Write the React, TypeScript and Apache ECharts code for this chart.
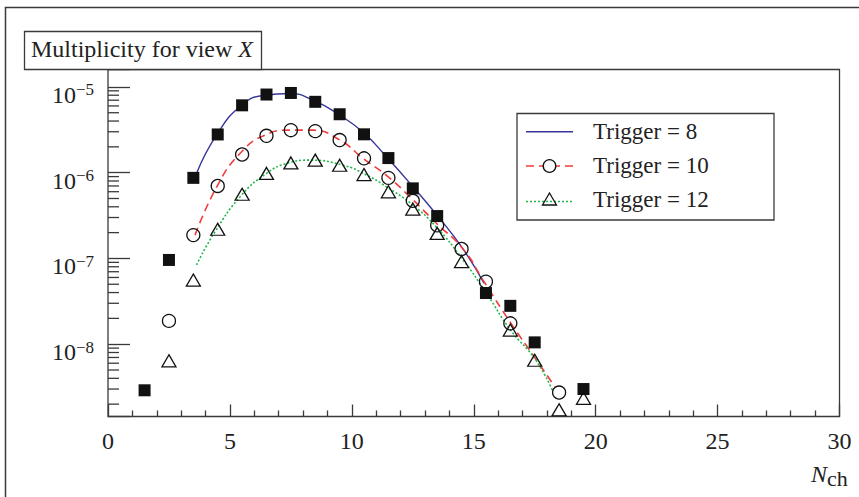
import React, { useEffect, useRef } from 'react';
import * as echarts from 'echarts';

// ---------------- data ----------------
const markerX = [1.5, 2.5, 3.5, 4.5, 5.5, 6.5, 7.5, 8.5, 9.5, 10.5, 11.5, 12.5, 13.5, 14.5, 15.5, 16.5, 17.5, 18.5, 19.5];
const trigger8 = [2.9e-9, 9.6e-8, 8.7e-7, 2.79e-6, 6.1e-6, 8.15e-6, 8.5e-6, 6.7e-6, 4.8e-6, 2.8e-6, 1.48e-6, 6.56e-7, 3.12e-7, null, 3.95e-8, 2.8e-8, 1.05e-8, null, 3.0e-9];
const trigger10 = [null, 1.87e-8, 1.87e-7, 7.0e-7, 1.63e-6, 2.69e-6, 3.13e-6, 3.05e-6, 2.4e-6, 1.47e-6, 8.7e-7, 4.7e-7, 2.43e-7, 1.29e-7, 5.36e-8, 1.75e-8, null, 2.73e-9, null];
const trigger12 = [null, 6.4e-9, 5.6e-8, 2.19e-7, 5.6e-7, 9.8e-7, 1.3e-6, 1.4e-6, 1.22e-6, 9.5e-7, 5.98e-7, 3.76e-7, 1.96e-7, 9.2e-8, null, 1.46e-8, 6.5e-9, 1.72e-9, 2.34e-9];

const fit8X = [3.63, 4.45, 5.48, 6.43, 7.46, 8.41, 9.51, 10.52, 11.42, 12.51, 13.47, 14.56, 15.42];
const fit8Y = [9.8e-7, 2.74e-6, 6.12e-6, 8.0e-6, 8.38e-6, 7.0e-6, 4.68e-6, 2.86e-6, 1.53e-6, 6.84e-7, 3.25e-7, 1.29e-7, 5.13e-8];
const fit10X = [3.57, 4.46, 5.41, 6.43, 7.46, 8.41, 9.51, 10.46, 11.49, 12.45, 13.47, 14.56, 15.42, 16.52, 17.5, 18.32];
const fit10Y = [1.87e-7, 6.84e-7, 1.67e-6, 2.74e-6, 3.13e-6, 3.13e-6, 2.4e-6, 1.47e-6, 8.95e-7, 5.0e-7, 2.57e-7, 1.29e-7, 5.37e-8, 1.76e-8, 7.0e-9, 3.2e-9];
const fit12X = [3.63, 4.39, 5.48, 6.5, 7.32, 8.28, 9.64, 10.6, 11.42, 12.45, 13.45, 14.54, 15.52, 16.5, 17.53, 18.25];
const fit12Y = [8.4e-8, 2.05e-7, 5.48e-7, 9.8e-7, 1.28e-6, 1.4e-6, 1.22e-6, 9.4e-7, 6.84e-7, 4.3e-7, 2.35e-7, 9.8e-8, 3.93e-8, 1.47e-8, 6.6e-9, 2.8e-9];

const legendLabels = ['Trigger = 8', 'Trigger = 10', 'Trigger = 12'];
const titleText = 'Multiplicity for view ';
const titleItalic = 'X';
const xTickLabels = ['0', '5', '10', '15', '20', '25', '30'];
const yDecades = [-9, -8, -7, -6, -5];
const minorMultipliers = [2, 3, 4, 5, 6, 7, 8, 9];

const X_MIN = 0;
const X_MAX = 30;
const Y_MIN = 1.435e-9;
const Y_MAX = 1.596e-5;

const FONT_NAME = '"Liberation Serif", "Times New Roman", serif';
const INK = '#222';
const FRAME = '#3a3a3a';
const BLUE = '#35359a';
const RED = '#f23a3a';
const GREEN = '#1fb84a';

function pairs(xs: number[], ys: (number | null)[]) {
  const out: number[][] = [];
  xs.forEach((x, i) => {
    const y = ys[i];
    if (y != null) out.push([x, y]);
  });
  return out;
}

const minorTickValues: number[][] = [];
yDecades.forEach((d) => {
  minorMultipliers.forEach((m) => {
    const v = m * Math.pow(10, d);
    if (v > Y_MIN && v < Y_MAX) minorTickValues.push([X_MIN, v]);
  });
});

export default function App() {
  const ref = useRef<HTMLDivElement>(null);

  useEffect(() => {
    if (!ref.current) return;
    const chart = echarts.init(ref.current, undefined, { renderer: 'svg' });

    const supMinus = '\u2212';

    const option: any = {
      animation: false,
      backgroundColor: '#fff',
      textStyle: { fontFamily: FONT_NAME },
      grid: {
        left: 108,
        top: 69.5,
        right: 19.5,
        bottom: 80.5,
        show: true,
        borderColor: FRAME,
        borderWidth: 1.3,
        backgroundColor: 'transparent',
        containLabel: false,
        outerBoundsMode: 'none',
      },
      xAxis: {
        type: 'value',
        min: X_MIN,
        max: X_MAX,
        interval: 5,
        axisLine: { show: false },
        splitLine: { show: false },
        axisTick: { show: true, inside: true, length: 12, lineStyle: { color: FRAME, width: 1.3 } },
        minorTick: { show: true, splitNumber: 5, length: 6, lineStyle: { color: FRAME, width: 1.3 } },
        axisLabel: {
          margin: 12,
          fontSize: 24,
          fontFamily: FONT_NAME,
          color: INK,
          formatter: (v: number) => {
            const idx = Math.round(v / 5);
            return xTickLabels[idx] ?? '';
          },
        },
      },
      yAxis: {
        type: 'log',
        logBase: 10,
        min: Y_MIN,
        max: Y_MAX,
        axisLine: { show: false },
        splitLine: { show: false },
        axisTick: { show: true, inside: true, length: 22, lineStyle: { color: FRAME, width: 1.3 } },
        axisLabel: {
          margin: 14,
          color: INK,
          fontSize: 24,
          fontFamily: FONT_NAME,
          padding: [16, 0, 0, 0],
          formatter: (v: number) => {
            const l = Math.log10(v);
            const r = Math.round(l);
            if (Math.abs(l - r) > 1e-6) return '';
            if (!yDecades.includes(r)) return '';
            return `{b|10}{s|${supMinus}${-r}}`;
          },
          rich: {
            b: { fontSize: 24, lineHeight: 24, fontFamily: FONT_NAME, color: INK },
            s: { fontSize: 17, lineHeight: 17, fontFamily: FONT_NAME, color: INK, padding: [0, 0, 10, 0] },
          },
        },
      },
      series: [
        {
          type: 'custom',
          name: 'yMinorTicks',
          silent: true,
          z: 5,
          data: minorTickValues,
          encode: { x: 0, y: 1 },
          renderItem: (params: any, api: any) => {
            const p = api.coord([api.value(0), api.value(1)]);
            return {
              type: 'line',
              shape: { x1: p[0], y1: p[1], x2: p[0] + 11, y2: p[1] },
              style: { stroke: FRAME, lineWidth: 1.3 },
            };
          },
        },
        {
          type: 'line',
          name: 'fit8',
          data: pairs(fit8X, fit8Y),
          smooth: true,
          symbol: 'none',
          z: 2,
          lineStyle: { color: BLUE, width: 1.4 },
        },
        {
          type: 'line',
          name: 'fit10',
          data: pairs(fit10X, fit10Y),
          smooth: true,
          symbol: 'none',
          z: 2,
          lineStyle: { color: RED, width: 1.6, type: [8, 5] },
        },
        {
          type: 'line',
          name: 'fit12',
          data: pairs(fit12X, fit12Y),
          smooth: true,
          symbol: 'none',
          z: 2,
          lineStyle: { color: GREEN, width: 1.6, type: [2, 2] },
        },
        {
          type: 'scatter',
          name: legendLabels[0],
          data: pairs(markerX, trigger8),
          symbol: 'rect',
          symbolSize: 12,
          z: 3,
          itemStyle: { color: '#111', opacity: 1 },
        },
        {
          type: 'scatter',
          name: legendLabels[1],
          data: pairs(markerX, trigger10),
          symbol: 'circle',
          symbolSize: 13,
          z: 4,
          itemStyle: { color: 'rgba(0,0,0,0)', borderColor: '#111', borderWidth: 1.3, opacity: 1 },
        },
        {
          type: 'scatter',
          name: legendLabels[2],
          data: pairs(markerX, trigger12),
          symbol: 'triangle',
          symbolSize: [14, 12],
          z: 4,
          itemStyle: { color: 'rgba(0,0,0,0)', borderColor: '#111', borderWidth: 1.3, opacity: 1 },
        },
      ],
      graphic: [
        // outer canvas frame
        {
          type: 'rect',
          silent: true,
          z: 0,
          shape: { x: 5.5, y: 7.5, width: 900, height: 600 },
          style: { fill: 'none', stroke: FRAME, lineWidth: 1.5 },
        },
        // title box
        {
          type: 'rect',
          z: 10,
          shape: { x: 24.5, y: 31.5, width: 237, height: 38 },
          style: { fill: '#fff', stroke: FRAME, lineWidth: 1.3 },
        },
        {
          type: 'text',
          z: 11,
          x: 31,
          y: 49,
          style: {
            text: `{a|${titleText}}{i|${titleItalic}}`,
            align: 'left',
            textAlign: 'left',
            verticalAlign: 'middle',
            textVerticalAlign: 'middle',
            font: `24px ${FONT_NAME}`,
            rich: {
              a: { fontSize: 24, fontFamily: FONT_NAME, fill: INK, color: INK },
              i: { fontSize: 24, fontFamily: FONT_NAME, fontStyle: 'italic', fill: INK, color: INK },
            },
          },
        },
        // legend box
        {
          type: 'rect',
          z: 10,
          shape: { x: 517, y: 113.5, width: 257, height: 106.5 },
          style: { fill: '#fff', stroke: FRAME, lineWidth: 1.3 },
        },
        {
          type: 'line',
          z: 11,
          shape: { x1: 526, y1: 131.7, x2: 573, y2: 131.7 },
          style: { stroke: BLUE, lineWidth: 1.4 },
        },
        {
          type: 'line',
          z: 11,
          shape: { x1: 526, y1: 166, x2: 573, y2: 166 },
          style: { stroke: RED, lineWidth: 1.6, lineDash: [8, 5] },
        },
        {
          type: 'circle',
          z: 12,
          shape: { cx: 549.5, cy: 166, r: 6.3 },
          style: { fill: '#fff', stroke: '#111', lineWidth: 1.3 },
        },
        {
          type: 'line',
          z: 11,
          shape: { x1: 526, y1: 201.5, x2: 573, y2: 201.5 },
          style: { stroke: GREEN, lineWidth: 1.6, lineDash: [2, 2] },
        },
        {
          type: 'polygon',
          z: 12,
          shape: { points: [[549.5, 193], [556.5, 205], [542.5, 205]] },
          style: { fill: 'none', stroke: '#111', lineWidth: 1.3 },
        },
        ...legendLabels.map((t, i) => ({
          type: 'text',
          z: 12,
          x: 593,
          y: [131.7, 165.5, 199][i],
          style: {
            text: t,
            font: `23px ${FONT_NAME}`,
            fill: INK,
            align: 'left',
            textAlign: 'left',
            verticalAlign: 'middle',
            textVerticalAlign: 'middle',
          },
        })),
        // x axis name N_ch
        {
          type: 'text',
          z: 11,
          x: 811,
          y: 474,
          style: {
            text: '{n|N}{c|ch}',
            align: 'left',
            textAlign: 'left',
            verticalAlign: 'middle',
            textVerticalAlign: 'middle',
            font: `24px ${FONT_NAME}`,
            rich: {
              n: { fontSize: 24, lineHeight: 24, fontFamily: FONT_NAME, fontStyle: 'italic', fill: INK, color: INK },
              c: { fontSize: 22, lineHeight: 22, fontFamily: FONT_NAME, fill: INK, color: INK, padding: [9, 0, 0, 0] },
            },
          },
        },
      ],
    };

    chart.setOption(option);
    return () => {
      chart.dispose();
    };
  }, []);

  return (
    <div
      ref={ref}
      style={{ position: 'absolute', left: 0, top: 0, width: 859, height: 497, background: '#fff' }}
    />
  );
}
